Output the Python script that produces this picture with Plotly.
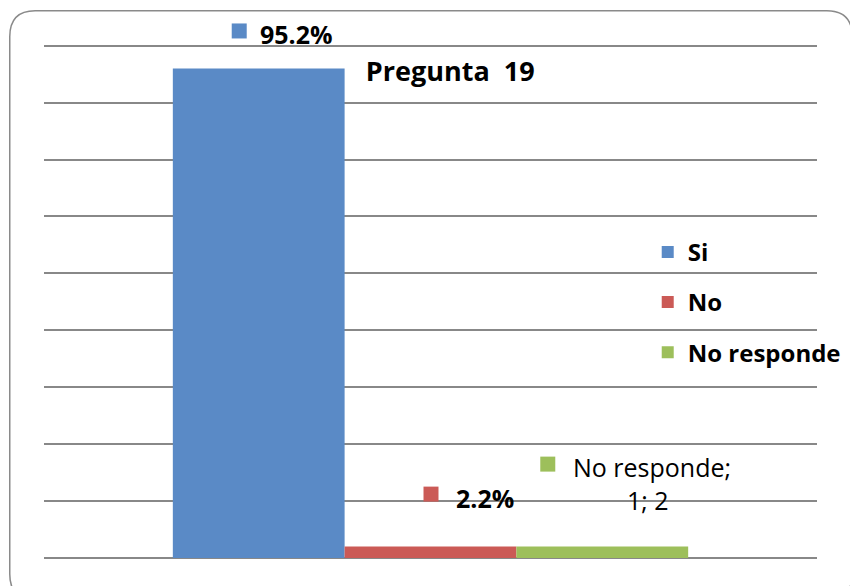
import plotly.graph_objects as go

# data
series = ["Si", "No", "No responde"]
values = [86, 2, 2]
labels = ["95.2%", "2.2%", "No responde;"]
colors = ["#5A8AC6", "#CB5A56", "#9DBF5B"]

# the page adds an 8px body margin, so the figure is 8px smaller than the window
W, H = 850, 578
ymax = 90
ytop = 91  # a little headroom so the top gridline (90) is drawn
L, R, B = 36, 24, 28
T = 38 - 512 * (ytop - ymax) / ymax
pw, ph = W - L - R, H - T - B
bargap = 1 / 3
bw = (1 - bargap) / 3

fig = go.Figure()
for i, (s, v, c) in enumerate(zip(series, values, colors)):
    fig.add_trace(go.Bar(x=[0], y=[v], name=s, marker_color=c, marker_line_width=0,
                         legendgroup=s))

font = "'Open Sans', Lato, sans-serif"


def a(x, y):
    return (x - L) / pw, (H - B - y) / ph


# rounded frame around the chart
x0, y0, x1, y1, r = 1, 3, 862, 592, 26
path = (
    "M {} {} L {} {} Q {} {} {} {} L {} {} Q {} {} {} {} "
    "L {} {} Q {} {} {} {} L {} {} Q {} {} {} {} Z"
).format(
    *a(x0 + r, y0), *a(x1 - r, y0), *a(x1, y0), *a(x1, y0 + r),
    *a(x1, y1 - r), *a(x1, y1), *a(x1 - r, y1),
    *a(x0 + r, y1), *a(x0, y1), *a(x0, y1 - r),
    *a(x0, y0 + r), *a(x0, y0), *a(x0 + r, y0),
)
fig.add_shape(type="path", path=path, xref="paper", yref="paper",
              line=dict(color="#8A8A8A", width=1.5), layer="below")

# data labels: small colour key + text, anchored to each bar top
sq = [(-27, 30), (-7, 45), (-62, 75)]      # square offsets (left, bottom) in px
txt = [(-1, 34), (23, 49), (-31, 80)]      # text offsets (left, middle) in px
bold = [True, True, False]
for i in range(3):
    xc = (i - 1) * bw
    sx, sy = sq[i]
    fig.add_shape(type="rect", xref="paper", yref="paper", xsizemode="pixel", ysizemode="pixel",
                  xanchor=xc + 0.5, yanchor=values[i] / ytop, x0=sx, x1=sx + 15, y0=sy, y1=sy + 15,
                  fillcolor=colors[i], line_width=0)
    tx, ty = txt[i]
    t = "<b>%s</b>" % labels[i] if bold[i] else labels[i]
    fig.add_annotation(x=xc, y=values[i], xref="x", yref="y", text=t, showarrow=False,
                       xanchor="left", yanchor="middle", xshift=tx, yshift=ty,
                       font=dict(family=font, size=25, color="#000000"))
# second line of the "No responde" label
fig.add_annotation(x=bw, y=values[2], xref="x", yref="y", text="1; 2", showarrow=False,
                   xanchor="center", yanchor="middle", xshift=46, yshift=47,
                   font=dict(family=font, size=25, color="#000000"))

fig.update_layout(
    width=W, height=H,
    margin=dict(l=L, r=R, t=T, b=B),
    paper_bgcolor="white", plot_bgcolor="white",
    barmode="group", bargap=bargap, bargroupgap=0,
    title=dict(text="<b>Pregunta  19</b>", x=(447 - L) / pw, xanchor="center",
               y=1 - 64 / H, yanchor="middle", yref="container",
               font=dict(family=font, size=27, color="#000000")),
    font=dict(family=font),
    showlegend=True,
    legend=dict(x=(653 - L) / pw, xanchor="left", y=(H - B - 222) / ph, yanchor="top",
                bgcolor="rgba(0,0,0,0)", traceorder="grouped", tracegroupgap=16,
                font=dict(family=font, size=24, color="#000000", weight="bold")),
    xaxis=dict(range=[-0.5, 0.5], showticklabels=False, showgrid=False, zeroline=False,
               showline=False, ticks="", fixedrange=True),
    yaxis=dict(range=[0, ytop], dtick=10, showticklabels=False, showgrid=True,
               gridcolor="#888888", gridwidth=1.5, zeroline=True, zerolinecolor="#888888",
               zerolinewidth=1.5, showline=False, ticks=""),
)

fig.write_html("out.html")
